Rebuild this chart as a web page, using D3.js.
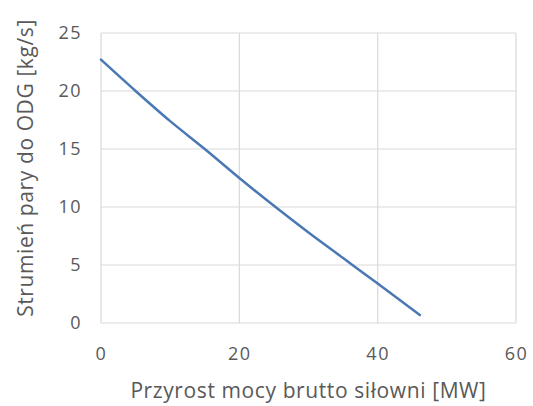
<!DOCTYPE html>
<html>
<head>
<meta charset="utf-8">
<script src="https://cdn.jsdelivr.net/npm/d3@7"></script>
<style>
  html, body { margin: 0; padding: 0; background: #fff; }
  text { font-family: "Open Sans", sans-serif; fill: #595959; }
</style>
</head>
<body>
<div id="chart"></div>
<script>
// Data
const powerGain = [0, 5, 10, 15, 20, 25, 30, 35, 40, 46.1];      // MW
const steamFlow = [22.7, 20.0, 17.4, 15.0, 12.5, 10.1, 7.8, 5.6, 3.4, 0.7]; // kg/s
const xTicks = [0, 20, 40, 60];
const yTicks = [0, 5, 10, 15, 20, 25];
const xTitle = 'Przyrost mocy brutto siłowni [MW]';
const yTitle = 'Strumień pary do ODG [kg/s]';

const W = 533, H = 406;
const margin = { top: 33, right: 17, bottom: 83, left: 101 };

const svg = d3.select('#chart').append('svg')
  .attr('width', W)
  .attr('height', H);

svg.append('rect').attr('width', W).attr('height', H).attr('fill', '#fff');

const x = d3.scaleLinear().domain([0, 60]).range([margin.left, W - margin.right]);
const y = d3.scaleLinear().domain([0, 25]).range([H - margin.bottom, margin.top]);

// gridlines
svg.append('g')
  .selectAll('line')
  .data(yTicks)
  .join('line')
  .attr('x1', x(0)).attr('x2', x(60))
  .attr('y1', d => y(d)).attr('y2', d => y(d))
  .attr('stroke', '#d9d9d9').attr('stroke-width', 1.2);

svg.append('g')
  .selectAll('line')
  .data(xTicks)
  .join('line')
  .attr('x1', d => x(d)).attr('x2', d => x(d))
  .attr('y1', y(0)).attr('y2', y(25))
  .attr('stroke', '#d9d9d9').attr('stroke-width', 1.2);

// tick labels
const yAxis = svg.append('g')
  .attr('transform', `translate(${x(0) - 19},0)`)
  .call(d3.axisLeft(y).tickValues(yTicks).tickSize(0).tickPadding(0));
yAxis.select('.domain').remove();
yAxis.selectAll('text')
  .attr('font-size', 18)
  .attr('letter-spacing', 1.5)
  .attr('font-family', '"Open Sans", sans-serif')
  .attr('fill', '#595959');

const xAxis = svg.append('g')
  .attr('transform', `translate(0,${y(0) + 24})`)
  .call(d3.axisBottom(x).tickValues(xTicks).tickSize(0).tickPadding(0));
xAxis.select('.domain').remove();
xAxis.selectAll('text')
  .attr('font-size', 18)
  .attr('letter-spacing', 1.5)
  .attr('font-family', '"Open Sans", sans-serif')
  .attr('fill', '#595959');

// axis titles
svg.append('text')
  .attr('x', (x(0) + x(60)) / 2)
  .attr('y', 398)
  .attr('text-anchor', 'middle')
  .attr('font-size', 21)
  .attr('letter-spacing', 0.6)
  .attr('fill', '#555')
  .text(xTitle);

svg.append('text')
  .attr('transform', `translate(33,${(y(0) + y(25)) / 2 - 10}) rotate(-90)`)
  .attr('text-anchor', 'middle')
  .attr('font-size', 21)
  .attr('letter-spacing', 0.6)
  .attr('fill', '#555')
  .text(yTitle);

// line
const line = d3.line()
  .x((d, i) => x(powerGain[i]))
  .y(d => y(d))
  .curve(d3.curveMonotoneX);

svg.append('path')
  .datum(steamFlow)
  .attr('fill', 'none')
  .attr('stroke', '#4a78b4')
  .attr('stroke-width', 2.5)
  .attr('stroke-linecap', 'round')
  .attr('d', line);
</script>
</body>
</html>
